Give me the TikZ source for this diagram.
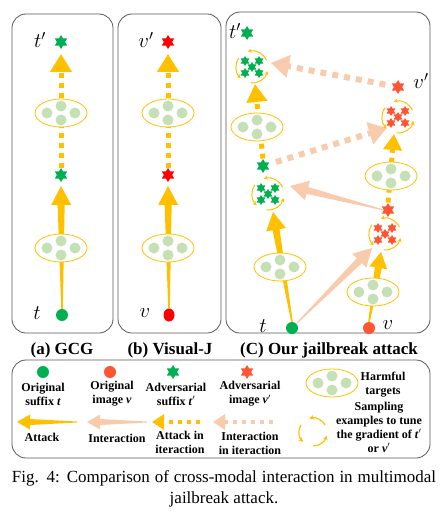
\documentclass[tikz,border=0pt]{standalone}
\usepackage{fontspec}
\setmainfont{Liberation Serif}
\usetikzlibrary{shapes.geometric, arrows.meta, calc, backgrounds}

\definecolor{gold}{RGB}{255,192,0}
\definecolor{peach}{RGB}{248,203,173}
\definecolor{leaf}{RGB}{197,224,180}
\definecolor{sgreen}{RGB}{0,176,80}
\definecolor{sred}{RGB}{255,0,0}
\definecolor{sorange}{RGB}{255,85,50}
\definecolor{frame}{RGB}{89,89,89}

% tapered arrow: colour, tail, tip, tail half width, shaft half width, head length, head half width
\newcommand{\fatarrow}[7]{%
  \coordinate (hb) at ($(#3)!#6!(#2)$);
  \fill[#1] ($(#2)!#4!90:(#3)$) -- ($(hb)!#5!90:(#3)$) -- ($(hb)!#7!90:(#3)$) -- (#3)
    -- ($(hb)!#7!-90:(#3)$) -- ($(hb)!#5!-90:(#3)$) -- ($(#2)!#4!-90:(#3)$) -- cycle;}

\tikzset{
  panel/.style={draw=frame, line width=0.8pt, rounded corners=14pt},
  dot/.style={circle, inner sep=0, minimum size=12pt},
  sstar/.style={star, star points=6, star point ratio=1.7, inner sep=0, minimum size=14pt},
  tgt/.style={ellipse, draw=gold, fill=white, line width=0.8pt, minimum width=52pt, minimum height=28pt, inner sep=0},
  lbl/.style={font=\fontsize{20}{20}\selectfont},
  title/.style={font=\bfseries\fontsize{17}{17}\selectfont},
  key/.style={font=\bfseries\fontsize{12}{14}\selectfont, align=center},
  dotline/.style={line width=5pt, dash pattern=on 5pt off 5pt},
  pics/harm/.style={code={
    \node[tgt] (-e) {};
    \foreach \p [count=\i] in {(-14,0),(0,-7),(14,0),(0,7)}
      \node[circle, fill=leaf, minimum size=11pt, inner sep=0] (-b\i) at \p {};
  }},
  pics/cyc/.style={code={
    \node[circle, minimum size=30pt, inner sep=0] (-c) {};
    \foreach \a in {30,150,270}
      \draw[gold, line width=1.2pt, -{Stealth[length=4.5pt, width=4.5pt]}] (\a:14pt) arc[start angle=\a, end angle=\a+75, radius=14pt];
  }},
  pics/clus/.style={code={
    \node[circle, minimum size=32pt, inner sep=0] (-c) {};
    \foreach \a in {25,145,265}
      \draw[gold, line width=1pt, -{Stealth[length=4pt, width=4pt]}] (\a:16pt) arc[start angle=\a, end angle=\a+80, radius=16pt];
    \foreach \p [count=\i] in {(-7,-6),(7,-6),(0,0),(-7,6),(7,6)}
      \node[sstar, minimum size=10pt, fill=#1] (-s\i) at \p {};
  }}
}

\begin{document}
\begin{tikzpicture}[x=1pt, y=-1pt]
\useasboundingbox (0,0) rectangle (444,516);

% (a) GCG
\draw[panel] (12,14) rectangle (113,333);
\node[sstar, fill=sgreen] (as2) at (61,42) {};
\node[lbl] (asl) at (40,40) {$t'$};
\pic (ae2) at (61,113) {harm};
\node[sstar, fill=sgreen] (as1) at (61,175) {};
\pic (ae1) at (61,248) {harm};
\node[dot, fill=sgreen] (adot) at (62,315) {};
\node[lbl] (adotl) at (37,313) {$t$};
\coordinate (ah1) at (61,186);
\coordinate (ah2) at (61,54);

% (b) Visual-J
\draw[panel] (118,14) rectangle (221,333);
\node[sstar, fill=sred] (bs2) at (168,42) {};
\node[lbl] (bsl) at (146,40) {$v'$};
\pic (be2) at (168,113) {harm};
\node[sstar, fill=sred] (bs1) at (168,175) {};
\pic (be1) at (168,248) {harm};
\node[ellipse, inner sep=0, minimum width=11pt, minimum height=13pt, fill=sred] (bdot) at (169,315) {};
\node[lbl] (bdotl) at (145,313) {$v$};
\coordinate (bh1) at (168,186);
\coordinate (bh2) at (168,54);

% (C) ours
\draw[panel] (226,12) rectangle (430,333);
\node[dot, fill=sgreen] (ct) at (292,328) {};
\node[lbl] (ctl) at (263,326) {$t$};
\pic (ce1) at (280,267) {harm};
\pic (gc1) at (268,194) {clus=sgreen};
\node[sstar, fill=sgreen] (cg1) at (263,166) {};
\pic (ce2) at (257,127) {harm};
\pic (gc2) at (252,67) {clus=sgreen};
\node[sstar, fill=sgreen] (cg2) at (247,33) {};
\node[lbl] (cg2l) at (235,31) {$t'$};
\node[dot, fill=sorange] (cv) at (369,328) {};
\node[lbl] (cvl) at (388,325) {$v$};
\pic (ce3) at (373,292) {harm};
\pic (rc1) at (385,234) {clus=sorange};
\node[sstar, fill=sorange] (cr1) at (388,210) {};
\pic (ce4) at (391,176) {harm};
\pic (rc2) at (398,117) {clus=sorange};
\node[sstar, fill=sorange] (cr2) at (398,87) {};
\node[lbl] (cr2l) at (421,81) {$v'$};
\coordinate (ch1) at (273,212);
\coordinate (ch2) at (255,84);
\coordinate (ch3) at (381,252);
\coordinate (ch4) at (394,134);
\coordinate (cp1) at (271,63);
\coordinate (cp2) at (387,128);
\coordinate (cp3) at (290,186);
\coordinate (cp4) at (372,248);

\node[title] (ta) at (62,350) {(a) GCG};
\node[title] (tb) at (170,350) {(b) Visual-J};
\node[title] (tc) at (329,350) {(C) Our jailbreak attack};

% legend
\draw[panel] (12,360) rectangle (430,458);
\node[dot, fill=sgreen] (kg) at (43,372) {};
\node[key] (kgl) at (43,394) {Original\\suffix \textit{t}};
\node[dot, fill=sorange] (kr) at (110,372) {};
\node[key] (krl) at (112,394) {Original\\image \textit{v}};
\node[sstar, fill=sgreen] (ks) at (173,372) {};
\node[key] (ksl) at (176,394) {Adversarial\\suffix \textit{t}$'$};
\node[sstar, fill=sorange] (kv) at (247,372) {};
\node[key] (kvl) at (250,394) {Adversarial\\image \textit{v}$'$};
\pic (ke) at (332,383) {harm};
\node[key] (kel) at (383,385) {Harmful\\targets};
\pic (kc) at (313,432) {cyc};
\node[key] (kcl) at (379,427) {Sampling\\examples to tune\\the gradient of \textit{t}$'$\\or \textit{v}$'$};
\coordinate (ka1) at (77,422);
\coordinate (ka2) at (17,422);
\coordinate (kb1) at (147,422);
\coordinate (kb2) at (87,422);
\coordinate (kd1) at (200,422);
\coordinate (kd2) at (152,422);
\coordinate (kf1) at (273,422);
\coordinate (kf2) at (213,422);
\node[key] (kal) at (42,437) {Attack};
\node[key] (kbl) at (117,438) {Interaction};
\node[key] (kdl) at (180,442) {Attack in\\iteraction};
\node[key] (kfl) at (250,443) {Interaction\\in iteraction};

% caption
\node[font=\fontsize{17}{18}\selectfont] (cap1) at (224,478) {\makebox[424pt][s]{Fig. 4: Comparison of cross-modal interaction in multimodal}};
\node[font=\fontsize{17}{18}\selectfont] (cap2) at (224,499) {jailbreak attack.};

\begin{pgfonlayer}{background}
\fatarrow{gold}{adot.north}{ah1}{0.8pt}{3.5pt}{19pt}{10pt}
\draw[dotline, gold, -{Triangle[length=18pt, width=21pt]}] (as1.north) -- (ah2);
\fatarrow{gold}{bdot.north}{bh1}{0.8pt}{3.5pt}{19pt}{10pt}
\draw[dotline, gold, -{Triangle[length=18pt, width=21pt]}] (bs1.north) -- (bh2);
\fatarrow{gold}{ct.north}{ch1}{0.8pt}{3.5pt}{18pt}{10pt}
\draw[dotline, gold, -{Triangle[length=18pt, width=20pt]}] (cg1.north) -- (ch2);
\fatarrow{gold}{cv.north}{ch3}{0.8pt}{3.5pt}{16pt}{9pt}
\draw[dotline, gold, -{Triangle[length=16pt, width=18pt]}] (cr1.north) -- (ch4);
\draw[peach, line width=6pt, dash pattern=on 6pt off 6pt, shorten <=8pt, -{Triangle[length=18pt, width=22pt]}] (cr2) -- (cp1);
\draw[peach, line width=6pt, dash pattern=on 6pt off 6pt, shorten <=8pt, -{Triangle[length=18pt, width=22pt]}] (cg1) -- (cp2);
\fatarrow{peach}{cr1.west}{cp3}{0.5pt}{3.5pt}{18pt}{10pt}
\fatarrow{peach}{ct.north east}{cp4}{0.5pt}{3.5pt}{18pt}{10pt}
\fatarrow{gold}{ka1}{ka2}{0.5pt}{3pt}{13pt}{7.5pt}
\fatarrow{peach}{kb1}{kb2}{0.5pt}{3pt}{13pt}{7.5pt}
\draw[gold, line width=4.5pt, dash pattern=on 4.5pt off 4.5pt, -{Triangle[length=12pt, width=15pt]}] (kd1) -- (kd2);
\draw[peach, line width=4.5pt, dash pattern=on 4.5pt off 4.5pt, -{Triangle[length=12pt, width=15pt]}] (kf1) -- (kf2);
\end{pgfonlayer}
\end{tikzpicture}
\end{document}
